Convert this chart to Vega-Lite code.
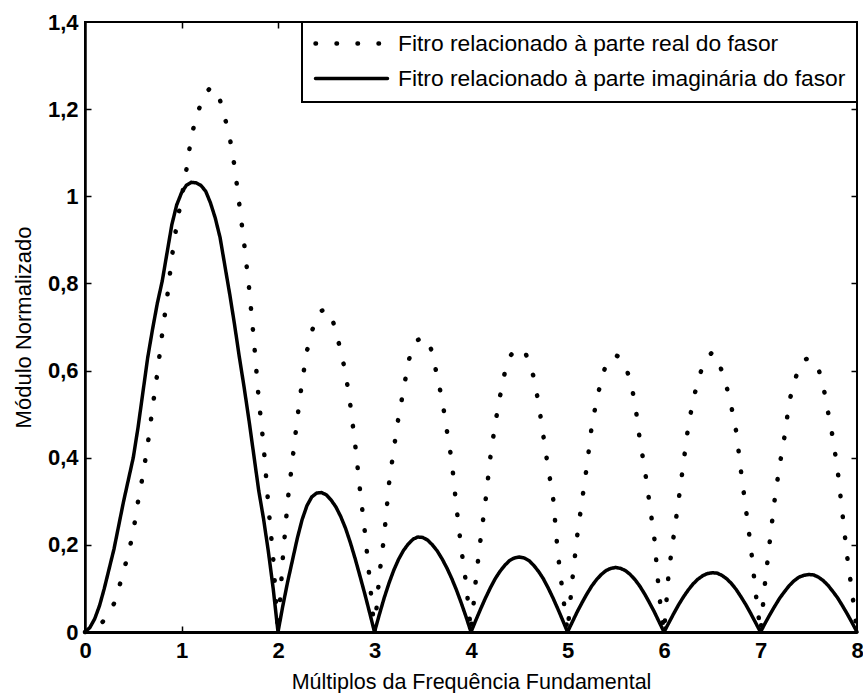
{
"$schema": "https://vega.github.io/schema/vega-lite/v6.json",
"width": 772, "height": 610,
"autosize": {"type": "none"},
"padding": {"left": 85, "top": 22, "right": 6, "bottom": 61},
"background": "white",
"config": {
  "view": {"stroke": "black", "strokeWidth": 2},
  "font": "Liberation Sans",
  "axis": {"grid": false},
  "legend": {
    "orient": "top-right", "offset": 0, "padding": 11, "clipHeight": 21, "rowPadding": 11,
    "labelFontSize": 22.8, "labelFont": "Liberation Sans", "labelColor": "black", "labelLimit": 700,
    "symbolType": "stroke", "symbolSize": 5184, "labelOffset": 8,
    "strokeColor": "black", "strokeWidth": 2, "fillColor": "white", "symbolStrokeColor": "black"
  }
},
"data": {"values": [
{"x":0,"r":0,"i":0},{"x":0.05,"r":0.002,"i":0.01},{"x":0.1,"r":0.006,"i":0.03},{"x":0.15,"r":0.014,"i":0.06},{"x":0.2,"r":0.028,"i":0.1},
{"x":0.25,"r":0.045,"i":0.145},{"x":0.3,"r":0.065,"i":0.19},{"x":0.35,"r":0.1,"i":0.245},{"x":0.4,"r":0.14,"i":0.3},{"x":0.45,"r":0.18,"i":0.35},
{"x":0.5,"r":0.23,"i":0.4},{"x":0.55,"r":0.3,"i":0.47},{"x":0.6,"r":0.36,"i":0.55},{"x":0.65,"r":0.43,"i":0.63},{"x":0.7,"r":0.515,"i":0.695},
{"x":0.75,"r":0.595,"i":0.755},{"x":0.8,"r":0.685,"i":0.805},{"x":0.85,"r":0.765,"i":0.87},{"x":0.9,"r":0.86,"i":0.935},{"x":0.95,"r":0.935,"i":0.98},
{"x":1.0,"r":0.995,"i":1.008},{"x":1.05,"r":1.06,"i":1.025},{"x":1.1,"r":1.135,"i":1.032},{"x":1.15,"r":1.18,"i":1.031},{"x":1.2,"r":1.212,"i":1.025},
{"x":1.25,"r":1.237,"i":1.012},{"x":1.3,"r":1.249,"i":0.985},{"x":1.35,"r":1.248,"i":0.95},{"x":1.4,"r":1.22,"i":0.905},{"x":1.45,"r":1.18,"i":0.84},
{"x":1.5,"r":1.135,"i":0.775},{"x":1.55,"r":1.068,"i":0.705},{"x":1.6,"r":0.98,"i":0.63},{"x":1.65,"r":0.89,"i":0.56},{"x":1.7,"r":0.79,"i":0.485},
{"x":1.75,"r":0.67,"i":0.405},{"x":1.8,"r":0.535,"i":0.325},{"x":1.85,"r":0.43,"i":0.26},{"x":1.9,"r":0.29,"i":0.185},{"x":1.95,"r":0.17,"i":0.1},
{"x":2.0,"r":0,"i":0},{"x":2.05,"r":0.17,"i":0.06},{"x":2.1,"r":0.3,"i":0.115},{"x":2.15,"r":0.395,"i":0.165},{"x":2.2,"r":0.49,"i":0.215},
{"x":2.25,"r":0.575,"i":0.258},{"x":2.3,"r":0.645,"i":0.29},{"x":2.35,"r":0.69,"i":0.31},{"x":2.4,"r":0.72,"i":0.319},{"x":2.45,"r":0.737,"i":0.32},
{"x":2.5,"r":0.742,"i":0.315},{"x":2.55,"r":0.728,"i":0.303},{"x":2.6,"r":0.69,"i":0.287},{"x":2.65,"r":0.645,"i":0.265},{"x":2.7,"r":0.595,"i":0.238},
{"x":2.75,"r":0.52,"i":0.205},{"x":2.8,"r":0.43,"i":0.168},{"x":2.85,"r":0.325,"i":0.128},{"x":2.9,"r":0.23,"i":0.087},{"x":2.95,"r":0.12,"i":0.044},
{"x":3.0,"r":0,"i":0},{"x":3.05,"r":0.13,"i":0.04},{"x":3.1,"r":0.22,"i":0.078},{"x":3.15,"r":0.34,"i":0.112},{"x":3.2,"r":0.42,"i":0.142},
{"x":3.25,"r":0.495,"i":0.167},{"x":3.3,"r":0.554,"i":0.187},{"x":3.35,"r":0.62,"i":0.202},{"x":3.4,"r":0.655,"i":0.213},{"x":3.45,"r":0.67,"i":0.218},
{"x":3.5,"r":0.677,"i":0.217},{"x":3.55,"r":0.672,"i":0.211},{"x":3.6,"r":0.64,"i":0.2},{"x":3.65,"r":0.585,"i":0.186},{"x":3.7,"r":0.535,"i":0.168},
{"x":3.75,"r":0.462,"i":0.147},{"x":3.8,"r":0.393,"i":0.123},{"x":3.85,"r":0.285,"i":0.096},{"x":3.9,"r":0.19,"i":0.066},{"x":3.95,"r":0.11,"i":0.034},
{"x":4.0,"r":0,"i":0},{"x":4.05,"r":0.12,"i":0.027},{"x":4.1,"r":0.215,"i":0.053},{"x":4.15,"r":0.3,"i":0.078},{"x":4.2,"r":0.4,"i":0.101},
{"x":4.25,"r":0.477,"i":0.122},{"x":4.3,"r":0.54,"i":0.139},{"x":4.35,"r":0.595,"i":0.153},{"x":4.4,"r":0.632,"i":0.164},{"x":4.45,"r":0.645,"i":0.17},
{"x":4.5,"r":0.65,"i":0.172},{"x":4.55,"r":0.648,"i":0.17},{"x":4.6,"r":0.62,"i":0.164},{"x":4.65,"r":0.585,"i":0.153},{"x":4.7,"r":0.525,"i":0.139},
{"x":4.75,"r":0.45,"i":0.122},{"x":4.8,"r":0.375,"i":0.101},{"x":4.85,"r":0.31,"i":0.078},{"x":4.9,"r":0.18,"i":0.053},{"x":4.95,"r":0.09,"i":0.027},
{"x":5.0,"r":0,"i":0},{"x":5.05,"r":0.12,"i":0.023},{"x":5.1,"r":0.22,"i":0.046},{"x":5.15,"r":0.3,"i":0.067},{"x":5.2,"r":0.38,"i":0.087},
{"x":5.25,"r":0.47,"i":0.105},{"x":5.3,"r":0.53,"i":0.12},{"x":5.35,"r":0.578,"i":0.132},{"x":5.4,"r":0.615,"i":0.141},{"x":5.45,"r":0.632,"i":0.146},
{"x":5.5,"r":0.635,"i":0.148},{"x":5.55,"r":0.63,"i":0.146},{"x":5.6,"r":0.61,"i":0.141},{"x":5.65,"r":0.578,"i":0.132},{"x":5.7,"r":0.525,"i":0.12},
{"x":5.75,"r":0.44,"i":0.105},{"x":5.8,"r":0.375,"i":0.087},{"x":5.85,"r":0.295,"i":0.067},{"x":5.9,"r":0.215,"i":0.046},{"x":5.95,"r":0.085,"i":0.023},
{"x":6.0,"r":0,"i":0},{"x":6.05,"r":0.14,"i":0.021},{"x":6.1,"r":0.22,"i":0.042},{"x":6.15,"r":0.3,"i":0.062},{"x":6.2,"r":0.385,"i":0.08},
{"x":6.25,"r":0.47,"i":0.096},{"x":6.3,"r":0.53,"i":0.11},{"x":6.35,"r":0.575,"i":0.121},{"x":6.4,"r":0.61,"i":0.129},{"x":6.45,"r":0.63,"i":0.134},
{"x":6.5,"r":0.642,"i":0.136},{"x":6.55,"r":0.63,"i":0.135},{"x":6.6,"r":0.598,"i":0.13},{"x":6.65,"r":0.562,"i":0.122},{"x":6.7,"r":0.515,"i":0.111},
{"x":6.75,"r":0.458,"i":0.097},{"x":6.8,"r":0.365,"i":0.08},{"x":6.85,"r":0.28,"i":0.062},{"x":6.9,"r":0.195,"i":0.042},{"x":6.95,"r":0.09,"i":0.021},
{"x":7.0,"r":0,"i":0},{"x":7.05,"r":0.12,"i":0.021},{"x":7.1,"r":0.215,"i":0.041},{"x":7.15,"r":0.31,"i":0.06},{"x":7.2,"r":0.385,"i":0.078},
{"x":7.25,"r":0.45,"i":0.093},{"x":7.3,"r":0.531,"i":0.107},{"x":7.35,"r":0.572,"i":0.118},{"x":7.4,"r":0.61,"i":0.126},{"x":7.45,"r":0.625,"i":0.13},
{"x":7.5,"r":0.628,"i":0.132},{"x":7.55,"r":0.625,"i":0.131},{"x":7.6,"r":0.605,"i":0.126},{"x":7.65,"r":0.565,"i":0.118},{"x":7.7,"r":0.505,"i":0.107},
{"x":7.75,"r":0.445,"i":0.093},{"x":7.8,"r":0.37,"i":0.078},{"x":7.85,"r":0.27,"i":0.06},{"x":7.9,"r":0.17,"i":0.041},{"x":7.95,"r":0.09,"i":0.021},
{"x":8.0,"r":0,"i":0}
]},
"transform": [{"fold": ["r", "i"], "as": ["s", "y"]}],
"layer": [
  {
    "mark": {"type": "line", "opacity": 0},
    "encoding": {
      "x": {"field": "x", "type": "quantitative",
        "axis": {"orient": "top", "offset": -610, "values": [1,2,3,4,5,6,7], "labels": false, "title": null, "domain": false, "ticks": true,
          "tickSize": 6, "tickColor": "black", "tickWidth": 1.5}},
      "y": {"field": "y", "type": "quantitative",
        "axis": {"orient": "left", "offset": -772, "values": [0.2,0.4,0.6,0.8,1,1.2], "labels": false, "title": null, "domain": false, "ticks": true,
          "tickSize": 6, "tickColor": "black", "tickWidth": 1.5}},
      "detail": {"field": "s", "type": "nominal"}
    }
  },
  {
    "mark": {"type": "line", "opacity": 0},
    "encoding": {
      "x": {"field": "x", "type": "quantitative",
        "axis": {"orient": "bottom", "offset": -610, "values": [1,2,3,4,5,6,7], "labels": false, "title": null, "domain": false, "ticks": true,
          "tickSize": 6, "tickColor": "black", "tickWidth": 1.5}},
      "y": {"field": "y", "type": "quantitative",
        "axis": {"orient": "left", "offset": -6, "values": [0.2,0.4,0.6,0.8,1,1.2], "labels": false, "title": null, "domain": false, "ticks": true,
          "tickSize": 6, "tickColor": "black", "tickWidth": 1.5}},
      "detail": {"field": "s", "type": "nominal"}
    }
  },
  {
    "mark": {"type": "line", "color": "black", "strokeCap": "round", "strokeJoin": "round"},
    "encoding": {
      "x": {"field": "x", "type": "quantitative",
        "scale": {"domain": [0, 8], "nice": false, "zero": false},
        "axis": {"orient": "bottom", "values": [0,1,2,3,4,5,6,7,8], "format": "d", "ticks": false,
          "title": "Múltiplos da Frequência Fundamental", "titleFontSize": 21.5, "titleFontWeight": "normal", "titleColor": "black", "titlePadding": 10,
          "labelFontSize": 22, "labelFontWeight": "bold", "labelColor": "black", "labelPadding": 8, "labelFlush": false, "labelOverlap": false,
          "domainColor": "black", "domainWidth": 3}},
      "y": {"field": "y", "type": "quantitative",
        "scale": {"domain": [0, 1.4], "nice": false},
        "axis": {"orient": "left", "values": [0,0.2,0.4,0.6,0.8,1,1.2,1.4], "ticks": false,
          "labelExpr": "replace(format(datum.value, '.1~f'), '.', ',')",
          "title": "Módulo Normalizado", "titleFontSize": 22, "titleFontWeight": "normal", "titleColor": "black", "titlePadding": 12,
          "labelFontSize": 22, "labelFontWeight": "bold", "labelColor": "black", "labelPadding": 7, "labelFlush": false, "labelOverlap": false,
          "domainColor": "black", "domainWidth": 2.5}},
      "strokeDash": {"field": "s", "type": "nominal",
        "scale": {"domain": ["r", "i"], "range": [[0.5, 20.5], [1, 0]]},
        "legend": {"title": null, "labelExpr": "datum.value === 'r' ? 'Fitro relacionado à parte real do fasor' : 'Fitro relacionado à parte imaginária do fasor'",
          "symbolStrokeColor": "black",
          "encode": {"symbols": {"update": {"strokeCap": {"value": "round"}}}}}},
      "strokeWidth": {"field": "s", "type": "nominal",
        "scale": {"type": "ordinal", "domain": ["r", "i"], "range": [4.5, 3.5]},
        "legend": {"title": null, "labelExpr": "datum.value === 'r' ? 'Fitro relacionado à parte real do fasor' : 'Fitro relacionado à parte imaginária do fasor'",
          "symbolStrokeColor": "black",
          "encode": {"symbols": {"update": {"strokeCap": {"value": "round"}}}}}}
    }
  }
],
"resolve": {"axis": {"x": "independent", "y": "independent"}}
}
